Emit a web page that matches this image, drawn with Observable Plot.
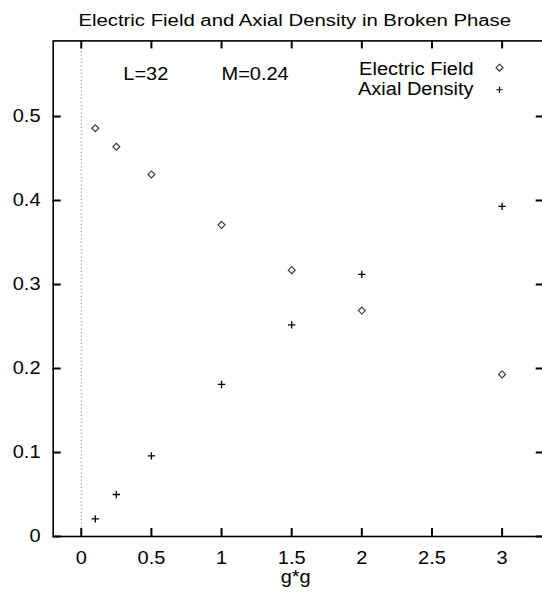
<!DOCTYPE html>
<html><head><meta charset="utf-8">
<script src="https://cdn.jsdelivr.net/npm/d3@7"></script>
<script src="https://cdn.jsdelivr.net/npm/@observablehq/plot@0.6"></script>
<style>
body{margin:0;background:#fff}
#chart svg{font-family:"Liberation Sans",Arial,Helvetica,sans-serif;background:#fff}
</style>
</head><body><div id="chart"></div>
<script>
// ---- data ----
const gg = [0.1, 0.25, 0.5, 1, 1.5, 2, 3];
const electricField = [0.486, 0.464, 0.431, 0.371, 0.317, 0.269, 0.193];
const axialDensity = [0.021, 0.050, 0.096, 0.181, 0.252, 0.312, 0.393];
const xTicks = [0, 0.5, 1, 1.5, 2, 2.5, 3];
const yTicks = [0, 0.1, 0.2, 0.3, 0.4, 0.5];
const seriesNames = ["Electric Field", "Axial Density"];
const annX = [0.3, 1.0];
const annY = [0.55, 0.55];
const annText = ["L=32", "M=0.24"];
const titleText = "Electric Field and Axial Density in Broken Phase";
const xLabelText = "g*g";
const xDomain = [-0.2, 3.3];
const yDomain = [0, 0.59];

const efData = gg.map((x, i) => ({x, y: electricField[i]}));
const adData = gg.map((x, i) => ({x, y: axialDensity[i]}));
const annData = annText.map((t, i) => ({x: annX[i], y: annY[i], t}));

const W = 542, H = 593, mL = 52.7, mR = -1.7, mT = 40.4, mB = 57;
const innerW = W - mL - mR, innerH = H - mT - mB, tick = 8;
// tick length expressed in data units through the scale extents
const tx = (xDomain[1] - xDomain[0]) * tick / innerW;
const ty = (yDomain[1] - yDomain[0]) * tick / innerH;
const fmt = d => String(d);
const tickStyle = {stroke: "#000", strokeWidth: 2};

const chart = Plot.plot({
  width: W,
  height: H,
  marginLeft: mL,
  marginRight: mR,
  marginTop: mT,
  marginBottom: mB,
  style: {fontSize: "18px", color: "#000", background: "#fff"},
  x: {domain: xDomain},
  y: {domain: yDomain},
  marks: [
    Plot.ruleX([0], {stroke: "#777", strokeWidth: 1, strokeDasharray: "1,2.6"}),
    Plot.frame({stroke: "#000", strokeWidth: 1.6}),
    // inward tick marks on all four sides
    Plot.ruleX(xTicks, {x: d => d, y1: yDomain[0], y2: yDomain[0] + ty, ...tickStyle}),
    Plot.ruleX(xTicks, {x: d => d, y1: yDomain[1] - ty, y2: yDomain[1], ...tickStyle}),
    Plot.ruleY(yTicks, {y: d => d, x1: xDomain[0], x2: xDomain[0] + tx, ...tickStyle}),
    Plot.ruleY(yTicks, {y: d => d, x1: xDomain[1] - tx, x2: xDomain[1], ...tickStyle}),
    // tick labels
    Plot.axisX({anchor: "bottom", ticks: xTicks, tickSize: 0, tickPadding: 15, tickFormat: fmt, label: null, fontSize: 18}),
    Plot.axisY({anchor: "left", ticks: yTicks, tickSize: 0, tickPadding: 12.7, tickFormat: fmt, label: null, fontSize: 18}),
    // data
    Plot.dot(efData, {x: "x", y: "y", symbol: "diamond2", r: 3.15, stroke: "#333", strokeWidth: 1.1, fill: "none"}),
    Plot.dot(adData, {x: "x", y: "y", symbol: "plus", r: 2.5, stroke: "#000", strokeWidth: 1.3}),
    // annotations
    Plot.text(annData, {x: "x", y: "y", text: "t", textAnchor: "start", lineAnchor: "middle", fontSize: 18, fill: "#000"}),
    // legend
    Plot.text([seriesNames[0]], {frameAnchor: "top-right", lineAnchor: "middle", dx: -70.7, dy: 28, textAnchor: "end", fontSize: 18, fill: "#000"}),
    Plot.text([seriesNames[1]], {frameAnchor: "top-right", lineAnchor: "middle", dx: -70.7, dy: 48, textAnchor: "end", fontSize: 18, fill: "#000"}),
    Plot.dot([seriesNames[0]], {frameAnchor: "top-right", dx: -44.7, dy: 26.8, symbol: "diamond2", r: 3.15, stroke: "#333", strokeWidth: 1.1, fill: "none"}),
    Plot.dot([seriesNames[1]], {frameAnchor: "top-right", dx: -44.7, dy: 48.8, symbol: "plus", r: 2.2, stroke: "#000", strokeWidth: 1.1}),
    // title and x label
    Plot.text([titleText], {frameAnchor: "top", lineAnchor: "middle", dx: -4, dy: -20.4, fontSize: 16, fill: "#000"}),
    Plot.text([xLabelText], {frameAnchor: "bottom", lineAnchor: "middle", dx: -3, dy: 41, fontSize: 18, fill: "#000"})
  ]
});
document.getElementById("chart").appendChild(chart);

// the reference's lettering is horizontally stretched; reproduce via textLength
chart.querySelectorAll("text").forEach(t => {
  const s = t.textContent;
  if (!s) return;
  const k = s === titleText ? 1.27 : 1.11;
  const len = t.getComputedTextLength();
  if (len > 0) {
    t.setAttribute("textLength", (len * k).toFixed(1));
    t.setAttribute("lengthAdjust", "spacingAndGlyphs");
  }
});
</script>
</body></html>
